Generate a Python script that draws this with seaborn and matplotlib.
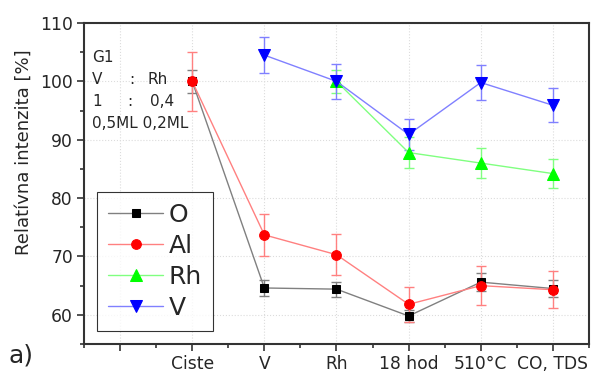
import numpy as np
import pandas as pd
import seaborn as sns
import matplotlib.pyplot as plt
from matplotlib.ticker import MultipleLocator

# kategórie na osi x (prvá pozícia je prázdna)
stages = ["", "Ciste", "V", "Rh", "18 hod", "510°C", "CO, TDS"]
nan = np.nan

o_vals = [nan, 100.0, 64.6, 64.4, 59.8, 65.6, 64.5]
o_err = [nan, 2.0, 1.3, 1.3, 1.1, 1.5, 1.4]
al_vals = [nan, 100.0, 73.7, 70.3, 61.8, 65.0, 64.3]
al_err = [nan, 5.0, 3.6, 3.5, 3.0, 3.3, 3.2]
rh_vals = [nan, nan, nan, 100.0, 87.8, 86.0, 84.2]
rh_err = [nan, nan, nan, 2.0, 2.7, 2.6, 2.5]
v_vals = [nan, nan, 104.5, 100.0, 90.9, 99.8, 95.9]
v_err = [nan, nan, 3.1, 3.0, 2.7, 3.0, 2.9]

series = [
    ("O", o_vals, o_err, "black", "#808080", "s", 6),
    ("Al", al_vals, al_err, "red", "#ff8080", "o", 7),
    ("Rh", rh_vals, rh_err, "#00ff00", "#80ff80", "^", 8),
    ("V", v_vals, v_err, "blue", "#8080ff", "v", 8),
]

sns.set_style("ticks")
plt.rcParams["font.family"] = ["DejaVu Sans"]

fig = plt.figure(figsize=(5.97, 3.76), dpi=100)
ax = fig.add_axes([0.1407, 0.0851, 0.8459, 0.8537])

x = np.arange(len(stages))
for name, vals, err, dark, light, mk, ms in series:
    df = pd.DataFrame({"x": x, "y": vals, "e": err}).dropna()
    ax.errorbar(df["x"], df["y"], yerr=df["e"], fmt="none", ecolor=light,
                elinewidth=1, capsize=3.5, capthick=1, zorder=2)
    sns.lineplot(data=df, x="x", y="y", ax=ax, color=light, lw=1,
                 marker=mk, markersize=ms, markerfacecolor=dark,
                 markeredgecolor=dark, label=name, zorder=3)

ax.set_xlim(-0.5, 6.5)
ax.set_ylim(55, 110)
ax.set_xticks(x)
ax.set_xticklabels(stages)
ax.xaxis.set_minor_locator(MultipleLocator(0.5))
ax.yaxis.set_major_locator(MultipleLocator(10))
ax.yaxis.set_minor_locator(MultipleLocator(5))
ax.tick_params(axis="both", which="major", direction="out", length=5,
               width=1.2, color="#333333", labelsize=12.3, pad=3)
ax.tick_params(axis="both", which="minor", direction="out", length=3,
               width=1.2, color="#333333")
ax.grid(True, which="major", linestyle=":", color="#dcdcdc", lw=0.8)
for sp in ax.spines.values():
    sp.set_color("#333333")
    sp.set_linewidth(1.5)

ax.set_xlabel("")
ax.set_ylabel("Relatívna intenzita [%]", fontsize=13)
ax.yaxis.set_label_coords(-0.101, 0.598)

leg = ax.legend(loc="lower left", bbox_to_anchor=(0.026, 0.04),
                borderaxespad=0, fontsize=18, frameon=True, fancybox=False,
                edgecolor="black", handlelength=2.2, labelspacing=0.28,
                handletextpad=0.2, borderpad=0.45)
leg.get_frame().set_linewidth(0.8)

# popis vzorky vľavo hore
tkw = dict(fontsize=11, transform=ax.transAxes, va="center", ha="left")
ax.text(0.016, 0.891, "G1", **tkw)
ax.text(0.016, 0.823, "V", **tkw)
ax.text(0.090, 0.823, ":", **tkw)
ax.text(0.125, 0.823, "Rh", **tkw)
ax.text(0.016, 0.754, "1", **tkw)
ax.text(0.085, 0.754, ":", **tkw)
ax.text(0.130, 0.754, "0,4", **tkw)
ax.text(0.016, 0.686, "0,5ML 0,2ML", **tkw)

fig.text(0.015, 0.055, "a)", fontsize=18, va="center", ha="left")

fig.savefig("out.png", dpi=100)
